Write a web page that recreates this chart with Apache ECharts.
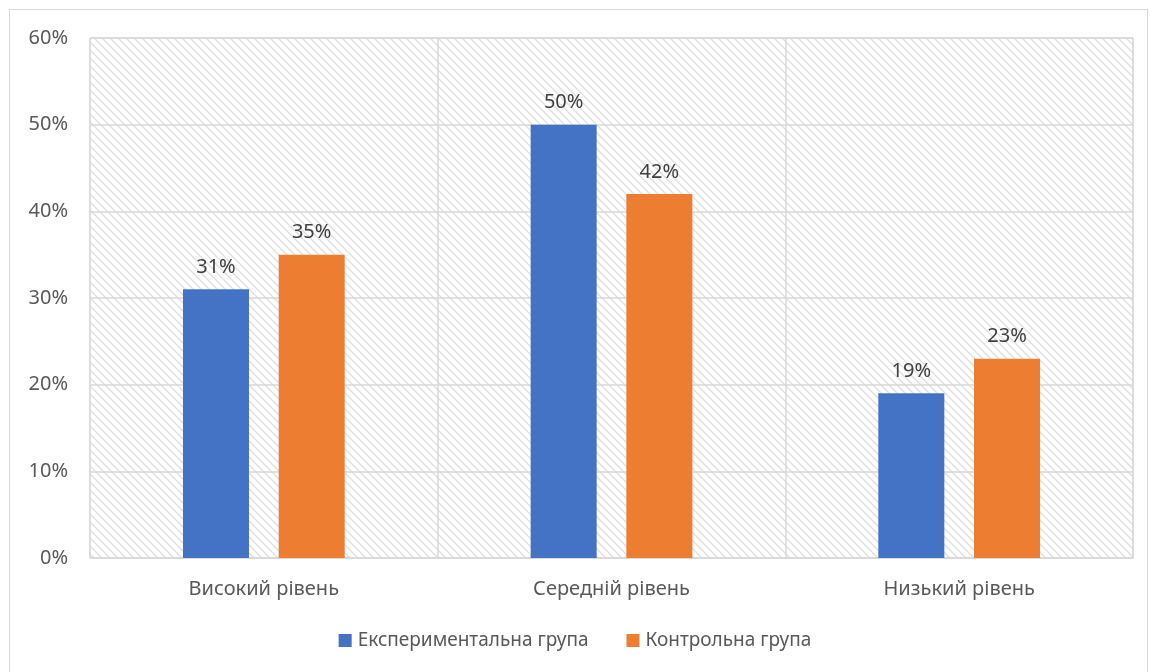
<!DOCTYPE html>
<html>
<head>
<meta charset="utf-8">
<style>
html,body{margin:0;padding:0;background:#fff;}
#frame{position:absolute;left:9px;top:9px;width:1139px;height:680px;border:1.5px solid #d9d9d9;box-sizing:border-box;}
#chart{position:absolute;left:0;top:0;width:1150px;height:672px;}
</style>
<script src="https://cdn.jsdelivr.net/npm/echarts@6/dist/echarts.min.js"></script>
</head>
<body>
<div id="frame"></div>
<div id="chart"></div>
<script>
const categories = ['Високий рівень', 'Середній рівень', 'Низький рівень'];
const seriesNames = ['Експериментальна група', 'Контрольна група'];
const experimental = [31, 50, 19];
const control = [35, 42, 23];

function hatch() {
  const c = document.createElement('canvas');
  c.width = 8; c.height = 8;
  const g = c.getContext('2d');
  g.fillStyle = '#ffffff';
  g.fillRect(0, 0, 8, 8);
  g.strokeStyle = '#dedede';
  g.lineWidth = 1.3;
  g.beginPath();
  g.moveTo(-2, -2); g.lineTo(10, 10);
  g.moveTo(-10, -2); g.lineTo(2, 10);
  g.moveTo(6, -2); g.lineTo(18, 10);
  g.stroke();
  return c;
}

const font = '"Noto Sans", sans-serif';
const chart = echarts.init(document.getElementById('chart'), null, {renderer: 'canvas'});
chart.setOption({
  animation: false,
  backgroundColor: 'transparent',
  textStyle: {fontFamily: font},
  grid: {
    left: 90, right: 17, top: 38, bottom: 114,
    show: true,
    backgroundColor: {image: hatch(), repeat: 'repeat'},
    borderColor: '#d9d9d9', borderWidth: 1
  },
  legend: {
    bottom: 17, left: 'center',
    itemWidth: 13, itemHeight: 13, itemGap: 38,
    icon: 'rect',
    textStyle: {fontSize: 19, color: '#595959', fontFamily: font, padding: [0, 0, 0, 1]},
    data: seriesNames
  },
  xAxis: {
    type: 'category',
    data: categories,
    axisLine: {show: true, lineStyle: {color: '#d9d9d9', width: 1.5}},
    axisTick: {show: false},
    splitLine: {show: true, lineStyle: {color: '#d9d9d9', width: 1.5}},
    axisLabel: {fontSize: 20, color: '#595959', margin: 21, fontFamily: font}
  },
  yAxis: {
    type: 'value',
    min: 0, max: 60, interval: 10,
    axisLine: {show: false},
    axisTick: {show: false},
    splitLine: {show: true, lineStyle: {color: '#d9d9d9', width: 1.5}},
    axisLabel: {fontSize: 20, color: '#595959', margin: 22, formatter: '{value}%', fontFamily: font}
  },
  series: [
    {
      name: seriesNames[0], type: 'bar', data: experimental,
      barWidth: 66, barGap: '45%',
      itemStyle: {color: '#4472c4'},
      label: {show: true, position: 'top', distance: 12, formatter: '{c}%', fontSize: 20, color: '#404040', fontFamily: font}
    },
    {
      name: seriesNames[1], type: 'bar', data: control,
      barWidth: 66, barGap: '45%',
      itemStyle: {color: '#ed7d31'},
      label: {show: true, position: 'top', distance: 12, formatter: '{c}%', fontSize: 20, color: '#404040', fontFamily: font}
    }
  ]
});
</script>
</body>
</html>
